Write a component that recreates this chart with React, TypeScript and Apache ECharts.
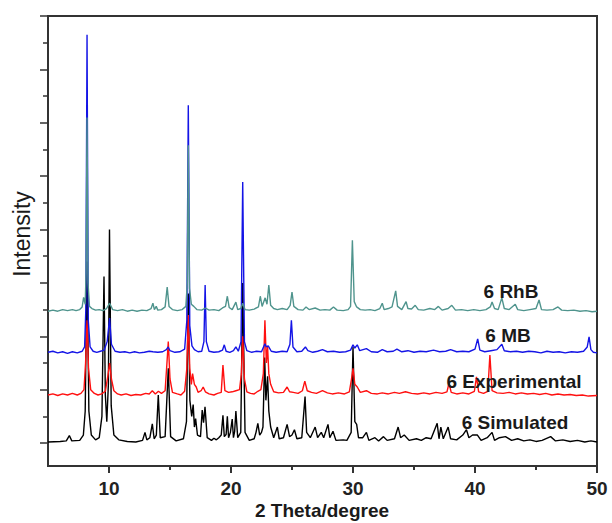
import React, { useEffect, useRef } from "react";
import * as echarts from "echarts";

// 2θ (degree), intensity (offset stacked, arbitrary units)
const simulated: [number, number][] = [
  [5, 0.02], [6.0, 0.03], [6.5, 0.04], [6.75, 0.14], [6.95, 0.04], [7.6, 0.05], [7.9, 0.15], [8.05, 0.6], [8.2, 3.4], [8.35, 0.6], [8.55, 0.15],
  [8.9, 0.06], [9.2, 0.1], [9.42, 0.5], [9.59, 3.12], [9.7, 0.9], [9.82, 0.4], [9.95, 1.1], [10.04, 4.0], [10.18, 0.7], [10.4, 0.15],
  [10.8, 0.06], [11.5, 0.03], [12.2, 0.02], [12.75, 0.05], [12.95, 0.2], [13.1, 0.06], [13.35, 0.1], [13.55, 0.36], [13.7, 0.08],
  [13.88, 0.15], [14.04, 0.9], [14.2, 0.1], [14.6, 0.12], [14.86, 1.4], [15.05, 0.12], [15.5, 0.04], [16.1, 0.08], [16.35, 0.4],
  [16.5, 2.8], [16.63, 0.8], [16.78, 0.5], [16.9, 0.72], [17.0, 0.3], [17.1, 0.46], [17.25, 0.15], [17.5, 0.12], [17.64, 0.62],
  [17.75, 0.38], [17.87, 0.68], [18.05, 0.1], [18.4, 0.05], [18.6, 0.09], [18.8, 0.06], [19.0, 0.1], [19.2, 0.15], [19.34, 0.52],
  [19.45, 0.12], [19.6, 0.16], [19.7, 0.5], [19.8, 0.1], [19.95, 0.2], [20.1, 0.45], [20.2, 0.1], [20.3, 0.22], [20.4, 0.6],
  [20.55, 0.1], [20.8, 0.2], [20.96, 3.0], [21.15, 0.2], [21.5, 0.05], [21.9, 0.08], [22.05, 0.2], [22.2, 0.37], [22.35, 0.15],
  [22.5, 0.2], [22.62, 0.3], [22.76, 1.6], [22.86, 0.8], [23.0, 1.25], [23.1, 0.6], [23.25, 0.3], [23.5, 0.1], [23.8, 0.3],
  [23.95, 0.08], [24.3, 0.1], [24.6, 0.35], [24.8, 0.12], [25.0, 0.15], [25.2, 0.25], [25.4, 0.08], [25.8, 0.1], [26.07, 0.87],
  [26.2, 0.2], [26.5, 0.1], [26.9, 0.3], [27.1, 0.1], [27.4, 0.2], [27.6, 0.1], [27.95, 0.35], [28.1, 0.1], [28.36, 0.22],
  [28.6, 0.05], [29.2, 0.06], [29.5, 0.05], [29.85, 0.2], [30.0, 1.8], [30.15, 0.4], [30.3, 0.35], [30.45, 0.1], [30.8, 0.1],
  [31.1, 0.2], [31.3, 0.05], [31.8, 0.1], [32.1, 0.04], [32.5, 0.12], [32.8, 0.05], [33.4, 0.08], [33.7, 0.3], [33.9, 0.1],
  [34.2, 0.15], [34.6, 0.05], [35.2, 0.08], [35.6, 0.05], [36.0, 0.1], [36.4, 0.08], [36.9, 0.37], [37.05, 0.08], [37.2, 0.3],
  [37.4, 0.08], [37.8, 0.3], [38.0, 0.08], [38.5, 0.06], [39.0, 0.15], [39.3, 0.25], [39.5, 0.1], [39.8, 0.15], [40.2, 0.15],
  [40.5, 0.05], [41.0, 0.1], [41.4, 0.2], [41.6, 0.05], [42.0, 0.1], [42.5, 0.12], [43.0, 0.05], [43.5, 0.08], [44.0, 0.04],
  [44.5, 0.06], [45.0, 0.03], [45.5, 0.05], [46.2, 0.12], [46.6, 0.04], [47.2, 0.06], [47.8, 0.03], [48.4, 0.05], [49.0, 0.02],
  [49.5, 0.04], [50, 0.02],
];

const experimental: [number, number][] = [
  [5, 0.9], [5.4, 0.92], [5.8, 0.89], [6.2, 0.92], [6.6, 0.9], [7.0, 0.93], [7.4, 0.9], [7.7, 0.93], [7.95, 1.0], [8.08, 1.5],
  [8.2, 2.3], [8.32, 1.4], [8.5, 1.0], [8.8, 0.93], [9.1, 0.9], [9.4, 0.92], [9.7, 0.97], [9.9, 1.25], [10.05, 1.5], [10.2, 1.2],
  [10.4, 0.98], [10.7, 0.92], [11.0, 0.9], [11.4, 0.92], [11.8, 0.89], [12.2, 0.91], [12.6, 0.9], [13.0, 0.93], [13.3, 0.92],
  [13.55, 0.98], [13.8, 0.92], [14.05, 0.97], [14.3, 0.93], [14.6, 0.98], [14.75, 1.5], [14.86, 1.9], [15.0, 1.2], [15.2, 0.95],
  [15.6, 0.92], [15.9, 0.9], [16.2, 0.97], [16.38, 1.4], [16.5, 2.4], [16.62, 1.4], [16.75, 1.1], [16.85, 1.3], [17.0, 1.1],
  [17.15, 1.05], [17.3, 0.95], [17.55, 0.98], [17.72, 1.05], [17.9, 0.96], [18.2, 0.92], [18.6, 0.9], [18.9, 0.93], [19.2, 0.95],
  [19.34, 1.46], [19.5, 0.98], [19.8, 0.95], [20.1, 0.96], [20.4, 0.98], [20.7, 1.0], [20.85, 1.3], [20.96, 2.0], [21.1, 1.2],
  [21.3, 0.96], [21.6, 0.93], [21.9, 0.92], [22.2, 0.97], [22.45, 1.0], [22.65, 1.3], [22.78, 2.3], [22.9, 1.5], [23.0, 1.8],
  [23.1, 1.3], [23.25, 1.1], [23.5, 0.96], [23.9, 0.94], [24.3, 0.95], [24.6, 1.05], [24.8, 0.96], [25.1, 0.95], [25.5, 0.93],
  [25.85, 0.98], [26.05, 1.16], [26.25, 0.98], [26.6, 0.95], [27.0, 0.93], [27.5, 0.98], [27.9, 0.94], [28.3, 0.92], [28.8, 0.94],
  [29.3, 0.92], [29.7, 0.96], [29.88, 1.2], [30.0, 1.4], [30.15, 1.1], [30.35, 1.05], [30.6, 0.95], [31.1, 0.98], [31.5, 0.93],
  [32.0, 0.92], [32.4, 0.94], [32.9, 0.92], [33.4, 0.95], [33.8, 0.93], [34.3, 0.96], [34.8, 0.93], [35.3, 0.92], [35.8, 0.94],
  [36.3, 0.92], [36.8, 0.95], [37.3, 0.93], [37.7, 0.96], [37.87, 1.12], [38.05, 0.95], [38.5, 0.92], [39.0, 0.94], [39.5, 0.92],
  [39.95, 0.97], [40.12, 1.24], [40.3, 0.96], [40.7, 0.93], [41.05, 0.97], [41.22, 1.65], [41.4, 0.98], [41.8, 0.94], [42.3, 0.93],
  [42.8, 0.95], [43.3, 0.92], [43.8, 0.94], [44.3, 0.92], [44.8, 0.93], [45.3, 0.91], [45.8, 0.93], [46.3, 0.9], [46.8, 0.92],
  [47.3, 0.9], [47.8, 0.91], [48.3, 0.89], [48.8, 0.9], [49.3, 0.88], [50, 0.89],
];

const mb: [number, number][] = [
  [5, 1.7], [5.4, 1.72], [5.8, 1.69], [6.2, 1.71], [6.6, 1.68], [7.0, 1.71], [7.4, 1.69], [7.8, 1.72], [8.0, 1.8], [8.1, 2.5],
  [8.2, 7.65], [8.3, 2.3], [8.45, 1.8], [8.7, 1.72], [9.0, 1.7], [9.3, 1.72], [9.6, 1.74], [9.85, 1.9], [10.05, 2.34], [10.2, 1.85],
  [10.5, 1.72], [10.9, 1.7], [11.3, 1.71], [11.7, 1.69], [12.1, 1.71], [12.5, 1.69], [12.9, 1.7], [13.3, 1.72], [13.6, 1.71],
  [14.0, 1.7], [14.4, 1.71], [14.7, 1.75], [14.85, 1.8], [15.0, 1.73], [15.4, 1.7], [15.8, 1.71], [16.2, 1.76], [16.38, 2.3],
  [16.5, 6.33], [16.62, 2.2], [16.8, 1.82], [17.0, 1.75], [17.3, 1.71], [17.6, 1.72], [17.78, 1.9], [17.88, 2.96], [17.98, 1.9],
  [18.2, 1.72], [18.6, 1.7], [19.0, 1.71], [19.3, 1.74], [19.45, 1.84], [19.6, 1.72], [19.9, 1.7], [20.2, 1.73], [20.4, 1.8],
  [20.6, 1.72], [20.82, 1.9], [20.96, 4.89], [21.1, 1.9], [21.3, 1.73], [21.7, 1.7], [22.1, 1.72], [22.5, 1.71], [22.78, 1.86],
  [22.9, 1.8], [23.05, 1.82], [23.3, 1.72], [23.7, 1.7], [24.2, 1.72], [24.6, 1.71], [24.83, 1.85], [24.95, 2.3], [25.08, 1.8],
  [25.4, 1.71], [25.8, 1.72], [26.1, 1.8], [26.3, 1.73], [26.7, 1.7], [27.1, 1.72], [27.5, 1.75], [27.9, 1.71], [28.4, 1.72],
  [28.9, 1.7], [29.4, 1.71], [29.8, 1.74], [30.0, 1.84], [30.15, 1.78], [30.35, 1.84], [30.55, 1.73], [31.1, 1.77], [31.5, 1.71],
  [32.0, 1.7], [32.4, 1.75], [32.8, 1.71], [33.3, 1.72], [33.6, 1.76], [34.0, 1.71], [34.5, 1.73], [35.0, 1.7], [35.5, 1.72],
  [36.0, 1.71], [36.6, 1.74], [37.1, 1.71], [37.6, 1.72], [38.0, 1.75], [38.5, 1.71], [39.0, 1.72], [39.5, 1.71], [40.0, 1.76],
  [40.22, 1.95], [40.4, 1.74], [40.8, 1.71], [41.3, 1.73], [41.8, 1.75], [42.2, 1.85], [42.4, 1.73], [42.9, 1.71], [43.4, 1.72],
  [43.9, 1.7], [44.4, 1.72], [44.9, 1.71], [45.4, 1.69], [45.9, 1.72], [46.4, 1.7], [46.9, 1.71], [47.4, 1.69], [47.9, 1.71],
  [48.4, 1.7], [48.9, 1.72], [49.2, 1.8], [49.35, 1.99], [49.5, 1.75], [49.7, 1.7], [50, 1.69],
];

const rhb: [number, number][] = [
  [5, 2.47], [5.4, 2.49], [5.8, 2.47], [6.2, 2.5], [6.6, 2.48], [7.0, 2.5], [7.3, 2.48], [7.6, 2.5], [7.8, 2.55], [7.92, 2.73],
  [8.05, 2.6], [8.12, 3.2], [8.2, 6.1], [8.28, 3.0], [8.4, 2.56], [8.6, 2.52], [8.9, 2.49], [9.2, 2.5], [9.5, 2.48], [9.8, 2.52],
  [10.05, 2.62], [10.3, 2.5], [10.7, 2.48], [11.1, 2.5], [11.5, 2.47], [11.9, 2.49], [12.3, 2.47], [12.7, 2.49], [13.1, 2.48],
  [13.45, 2.52], [13.6, 2.62], [13.72, 2.5], [13.87, 2.56], [14.0, 2.49], [14.3, 2.5], [14.6, 2.55], [14.77, 2.92], [14.92, 2.56],
  [15.2, 2.5], [15.6, 2.48], [16.0, 2.5], [16.3, 2.56], [16.42, 3.0], [16.5, 5.58], [16.6, 2.9], [16.75, 2.6], [16.95, 2.56],
  [17.2, 2.5], [17.6, 2.49], [17.9, 2.53], [18.2, 2.49], [18.6, 2.5], [19.0, 2.48], [19.3, 2.53], [19.55, 2.56], [19.7, 2.75],
  [19.85, 2.54], [20.1, 2.5], [20.4, 2.64], [20.55, 2.5], [20.8, 2.52], [20.96, 2.62], [21.15, 2.5], [21.5, 2.49], [21.9, 2.51],
  [22.25, 2.55], [22.4, 2.75], [22.55, 2.56], [22.8, 2.72], [22.95, 2.6], [23.1, 2.96], [23.25, 2.58], [23.5, 2.52], [23.8, 2.5],
  [24.2, 2.52], [24.6, 2.5], [24.85, 2.58], [25.0, 2.83], [25.15, 2.56], [25.5, 2.5], [25.9, 2.49], [26.15, 2.55], [26.4, 2.5],
  [26.9, 2.53], [27.3, 2.49], [27.7, 2.5], [28.1, 2.49], [28.4, 2.55], [28.7, 2.49], [29.2, 2.48], [29.6, 2.5], [29.8, 2.56],
  [29.95, 3.8], [30.1, 2.65], [30.3, 2.55], [30.6, 2.5], [31.0, 2.49], [31.4, 2.5], [31.8, 2.48], [32.2, 2.52], [32.4, 2.62],
  [32.55, 2.5], [32.9, 2.52], [33.2, 2.55], [33.5, 2.85], [33.65, 2.56], [34.0, 2.5], [34.35, 2.65], [34.5, 2.52], [34.8, 2.51],
  [35.1, 2.58], [35.35, 2.5], [35.8, 2.49], [36.3, 2.52], [36.7, 2.5], [37.0, 2.56], [37.3, 2.49], [37.8, 2.52], [38.1, 2.58],
  [38.4, 2.49], [38.9, 2.5], [39.4, 2.48], [39.9, 2.5], [40.4, 2.48], [40.9, 2.5], [41.25, 2.55], [41.4, 2.64], [41.6, 2.52],
  [41.9, 2.5], [42.2, 2.72], [42.4, 2.52], [42.8, 2.5], [43.3, 2.6], [43.5, 2.5], [44.0, 2.48], [44.5, 2.5], [45.0, 2.52],
  [45.25, 2.68], [45.45, 2.5], [45.9, 2.49], [46.4, 2.5], [46.8, 2.55], [47.1, 2.49], [47.6, 2.48], [48.1, 2.49], [48.6, 2.47],
  [49.1, 2.48], [49.6, 2.46], [50, 2.47],
];

const xMajorTicks = [10, 20, 30, 40, 50];
const xMinorTicks = [15, 25, 35, 45];
const yMajorTicks = [0, 1, 2, 3, 4, 5, 6, 7, 8];
const yMinorTicks = [0.5, 1.5, 2.5, 3.5, 4.5, 5.5, 6.5, 7.5];
const seriesNames = ["6 Simulated", "6 Experimental", "6 MB", "6 RhB"];

const FONT = "'Liberation Sans', Arial, Helvetica, sans-serif";
const AXIS = "#333";

export default function App() {
  const ref = useRef<HTMLDivElement>(null);
  useEffect(() => {
    if (!ref.current) return;
    const chart = echarts.init(ref.current, null, { renderer: "svg" });
    const datasets = [simulated, experimental, mb, rhb];
    const colors = ["#000000", "#ff1010", "#1414e6", "#4f948d"];
    const labelPos: [number, number][] = [
      [515, 422],
      [514, 381],
      [508, 335],
      [511, 291],
    ];
    const common = { min: 5, max: 50, type: "value" as const, splitLine: { show: false } };
    chart.setOption({
      animation: false,
      grid: {
        left: 48,
        right: 15,
        top: 16,
        bottom: 57,
        show: true,
        borderColor: AXIS,
        borderWidth: 2,
        backgroundColor: "transparent",
      },
      xAxis: [
        {
          ...common,
          position: "bottom",
          axisLine: { show: true, onZero: false, lineStyle: { color: AXIS, width: 2 } },
          axisTick: { show: true, customValues: xMajorTicks, length: 7, lineStyle: { color: AXIS, width: 2 } },
          axisLabel: {
            show: true,
            customValues: xMajorTicks,
            margin: 13,
            fontSize: 19,
            fontWeight: "bold",
            color: "#222",
            fontFamily: FONT,
          },
        },
        {
          ...common,
          position: "bottom",
          axisLine: { show: false, onZero: false },
          axisTick: { show: true, customValues: xMinorTicks, length: 4, lineStyle: { color: AXIS, width: 2 } },
          axisLabel: { show: false },
        },
      ],
      yAxis: [
        {
          type: "value",
          min: -0.43,
          max: 8,
          position: "left",
          splitLine: { show: false },
          axisLine: { show: true, onZero: false, lineStyle: { color: AXIS, width: 2 } },
          axisTick: { show: true, customValues: yMajorTicks, length: 8, lineStyle: { color: AXIS, width: 1.5 } },
          axisLabel: { show: false },
        },
        {
          type: "value",
          min: -0.43,
          max: 8,
          position: "left",
          splitLine: { show: false },
          axisLine: { show: false, onZero: false },
          axisTick: { show: true, customValues: yMinorTicks, length: 5, lineStyle: { color: AXIS, width: 1.5 } },
          axisLabel: { show: false },
        },
      ],
      series: datasets.map((d, i) => ({
        name: seriesNames[i],
        type: "line",
        xAxisIndex: 0,
        yAxisIndex: 0,
        data: d,
        showSymbol: false,
        symbol: "none",
        lineStyle: { color: colors[i], width: 1.4 },
        itemStyle: { color: colors[i] },
        z: 2 + i,
      })),
      graphic: [
        ...seriesNames.map((n, i) => ({
          type: "text",
          x: labelPos[i][0],
          y: labelPos[i][1],
          z: 100,
          style: {
            text: n,
            fill: "#1a1a1a",
            font: `bold 19px ${FONT}`,
            textAlign: "center",
            textVerticalAlign: "middle",
          },
        })),
        {
          type: "text",
          x: 322,
          y: 510,
          style: {
            text: "2 Theta/degree",
            fill: "#1a1a1a",
            font: `bold 19px ${FONT}`,
            textAlign: "center",
            textVerticalAlign: "middle",
          },
        },
        {
          type: "text",
          x: 22,
          y: 234,
          rotation: Math.PI / 2,
          style: {
            text: "Intensity",
            fill: "#1a1a1a",
            font: `23px ${FONT}`,
            textAlign: "center",
            textVerticalAlign: "middle",
          },
        },
      ],
    });
    return () => chart.dispose();
  }, []);
  return (
    <div
      ref={ref}
      style={{ position: "fixed", left: 0, top: 0, width: 612, height: 523, background: "#fff" }}
    />
  );
}
